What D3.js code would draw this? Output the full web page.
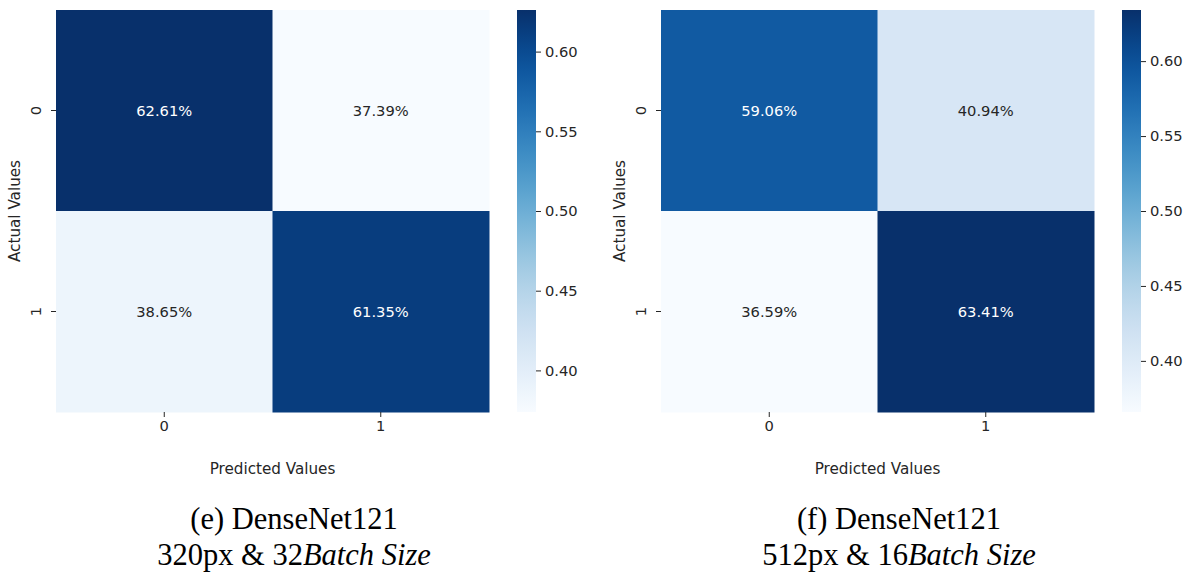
<!DOCTYPE html>
<html lang="en">
<head>
  <meta charset="utf-8">
  <title>DenseNet121 confusion matrices</title>
  <script src="https://cdnjs.cloudflare.com/ajax/libs/d3/7.8.5/d3.min.js"></script>
  <style>
    body { margin: 0; background: #ffffff; }
    svg text { font-family: "DejaVu Sans", sans-serif; }
    .caption { font-family: "Liberation Serif", serif; fill: #000; }
  </style>
</head>
<body>
  <svg id="chart" width="1190" height="574"></svg>
  <script>
    //
    // Data
    //
    var classes = ['0', '1']
    var matrixE = [[0.6261, 0.3739], [0.3865, 0.6135]]
    var matrixF = [[0.5906, 0.4094], [0.3659, 0.6341]]
    var colorbarTicks = [0.40, 0.45, 0.50, 0.55, 0.60]
    var captionE = ['(e) DenseNet121', '320px & 32', 'Batch Size']
    var captionF = ['(f) DenseNet121', '512px & 16', 'Batch Size']
    var xLabel = 'Predicted Values'
    var yLabel = 'Actual Values'

    //
    // Layout
    //
    var svg = d3.select('#chart')
    var panels = [
      { matrix: matrixE, caption: captionE, left: 56, top: 10, width: 433, height: 402, cbX: 517, captionX: 294 },
      { matrix: matrixF, caption: captionF, left: 661, top: 10, width: 433, height: 402, cbX: 1122, captionX: 899 }
    ]
    var cbWidth = 19
    var textDark = '#262626'
    var fs = 14.7

    function luminance(c) {
      var rgb = d3.rgb(c)
      var ch = [rgb.r, rgb.g, rgb.b].map(function(v) {
        v = v / 255
        return v <= 0.03928 ? v / 12.92 : Math.pow((v + 0.055) / 1.055, 2.4)
      })
      return 0.2126 * ch[0] + 0.7152 * ch[1] + 0.0722 * ch[2]
    }

    panels.forEach(function(p, pi) {
      var flat = d3.merge(p.matrix)
      var color = d3.scaleSequential(d3.interpolateBlues).domain(d3.extent(flat))
      var x = d3.scaleBand().domain(classes).range([p.left, p.left + p.width])
      var y = d3.scaleBand().domain(classes).range([p.top, p.top + p.height])
      var g = svg.append('g')

      // cells
      var cells = []
      p.matrix.forEach(function(row, i) {
        row.forEach(function(v, j) { cells.push({ r: classes[i], c: classes[j], v: v }) })
      })
      g.selectAll('rect.cell').data(cells).join('rect')
        .attr('class', 'cell')
        .attr('x', function(d) { return x(d.c) })
        .attr('y', function(d) { return y(d.r) })
        .attr('width', x.bandwidth() + 0.5)
        .attr('height', y.bandwidth() + 0.5)
        .attr('fill', function(d) { return color(d.v) })
      g.selectAll('text.annot').data(cells).join('text')
        .attr('class', 'annot')
        .attr('x', function(d) { return x(d.c) + x.bandwidth() / 2 })
        .attr('y', function(d) { return y(d.r) + y.bandwidth() / 2 })
        .attr('dy', '0.35em')
        .attr('text-anchor', 'middle')
        .attr('font-size', fs)
        .attr('fill', function(d) { return luminance(color(d.v)) > 0.408 ? textDark : '#ffffff' })
        .text(function(d) { return (d.v * 100).toFixed(2) + '%' })

      // x axis
      var xAxis = g.append('g').attr('transform', 'translate(0,' + (p.top + p.height) + ')')
        .call(d3.axisBottom(x).tickSize(5).tickPadding(4))
      // y axis
      var yAxis = g.append('g').attr('transform', 'translate(' + p.left + ',0)')
        .call(d3.axisLeft(y).tickSize(5).tickPadding(4))
      ;[xAxis, yAxis].forEach(function(a) {
        a.select('.domain').remove()
        a.selectAll('.tick line').attr('stroke', '#262626')
        a.selectAll('.tick text').attr('font-size', fs).attr('fill', textDark)
          .style('font-family', '"DejaVu Sans", sans-serif')
      })
      yAxis.selectAll('.tick text')
        .attr('x', 0).attr('dy', 0)
        .attr('text-anchor', 'middle')
        .attr('transform', 'translate(-15,0) rotate(-90)')

      g.append('text')
        .attr('x', p.left + p.width / 2).attr('y', p.top + p.height + 62)
        .attr('text-anchor', 'middle').attr('font-size', fs + 0.5).attr('fill', textDark)
        .text(xLabel)
      g.append('text')
        .attr('transform', 'translate(' + (p.left - 36) + ',' + (p.top + p.height / 2) + ') rotate(-90)')
        .attr('text-anchor', 'middle').attr('font-size', fs + 0.5).attr('fill', textDark)
        .text(yLabel)

      // colorbar
      var gradId = 'grad' + pi
      var grad = svg.append('defs').append('linearGradient')
        .attr('id', gradId).attr('x1', 0).attr('y1', 1).attr('x2', 0).attr('y2', 0)
      d3.range(0, 1.0001, 0.05).forEach(function(t) {
        grad.append('stop').attr('offset', t).attr('stop-color', d3.interpolateBlues(t))
      })
      var cbScale = d3.scaleLinear().domain(color.domain()).range([p.top + p.height, p.top])
      g.append('rect')
        .attr('x', p.cbX).attr('y', p.top)
        .attr('width', cbWidth).attr('height', p.height)
        .attr('fill', 'url(#' + gradId + ')')
      var cbAxis = g.append('g').attr('transform', 'translate(' + (p.cbX + cbWidth) + ',0)')
        .call(d3.axisRight(cbScale).tickValues(colorbarTicks).tickFormat(d3.format('.2f')).tickSize(5).tickPadding(4))
      cbAxis.select('.domain').remove()
      cbAxis.selectAll('.tick line').attr('stroke', '#262626')
      cbAxis.selectAll('.tick text').attr('font-size', fs).attr('fill', textDark)
        .style('font-family', '"DejaVu Sans", sans-serif')

      // caption
      svg.append('text').attr('class', 'caption')
        .attr('x', p.captionX).attr('y', 529)
        .attr('text-anchor', 'middle').attr('font-size', 30.5)
        .text(p.caption[0])
      var line2 = svg.append('text').attr('class', 'caption')
        .attr('x', p.captionX).attr('y', 565)
        .attr('text-anchor', 'middle').attr('font-size', 30.5)
      line2.append('tspan').text(p.caption[1])
      line2.append('tspan').attr('font-style', 'italic').text(p.caption[2])
    })
  </script>
</body>
</html>
